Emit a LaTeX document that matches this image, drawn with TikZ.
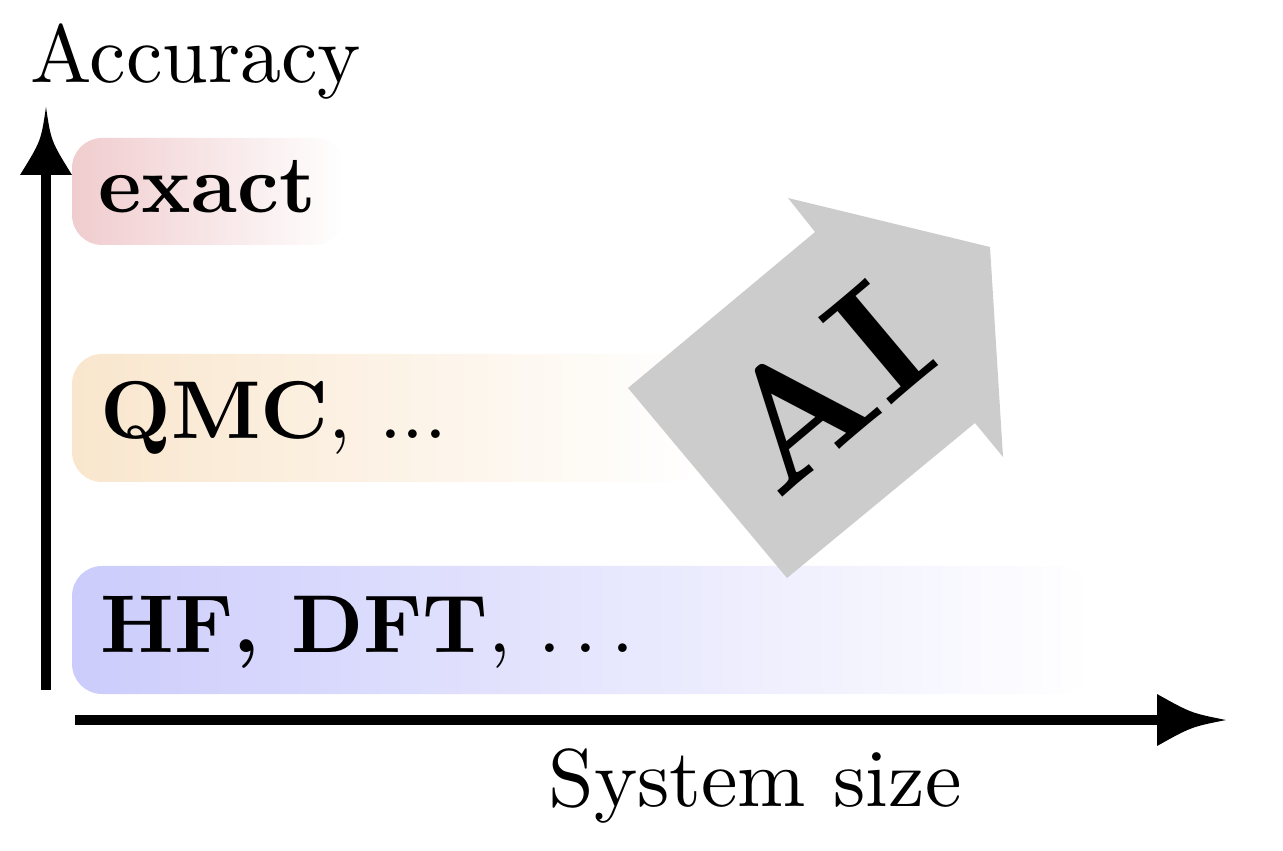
\documentclass[tikz,border=0pt]{standalone}
\usepackage{fontspec}
\setmainfont{lmroman10-regular.otf}[BoldFont=lmroman10-bold.otf]
\usetikzlibrary{fadings}
\definecolor{bandred}{RGB}{240,204,206}
\definecolor{bandorange}{RGB}{249,230,205}
\definecolor{bandblue}{RGB}{204,204,252}
\definecolor{aigray}{RGB}{204,204,204}
\begin{document}
\begin{tikzpicture}[x=0.5pt,y=-0.5pt,
  lbl/.style={anchor=base west, inner sep=0pt, font=\fontsize{41}{49}\selectfont},
  boldlbl/.style={lbl, font=\fontsize{41}{49}\selectfont\bfseries},
  band/.style={rounded corners=15pt, path fading=east},
  axisline/.style={line width=5pt},
  tiphead/.style={fill=black},
  aiarrow/.style={fill=aigray}]
\useasboundingbox (0,0) rectangle (1283,850);

% bands
\fill[band, bandred] (72,138) rectangle (345,245);
\fill[band, bandorange] (72,354) rectangle (700,482);
\fill[band, bandblue] (72,566) rectangle (1090,694);

% AI arrow
\fill[aiarrow] (628,388) -- (787,578) -- (975,423) -- (1003,457) -- (990,247) -- (788,198) -- (815,232) -- cycle;
\node[rotate=40, inner sep=0pt, font=\fontsize{83}{99}\selectfont\bfseries] (ai) at (823,387) {AI};

% labels
\node[lbl] (acc) at (30,83) {Accuracy};
\node[boldlbl] (exact) at (98,213) {exact};
\node[lbl] (qmc) at (100,438) {\textbf{QMC}, ...};
\node[lbl] (hf) at (100,652) {\textbf{HF, DFT}, .\kern.1667em.\kern.1667em.};
\node[lbl] (sys) at (548,806) {System size};

% axes
\coordinate (yfoot) at (46,690);
\coordinate (yhead) at (46,172);
\coordinate (xfoot) at (75,720);
\coordinate (xhead) at (1160,720);
\draw[axisline] (yfoot) -- (yhead);
\draw[axisline] (xfoot) -- (xhead);
\fill[tiphead] (20,175) .. controls (41,141) .. (46,107) .. controls (51,141) .. (72,175) -- cycle;
\fill[tiphead] (1157,694) .. controls (1191,713) .. (1226,720) .. controls (1191,727) .. (1157,746) -- cycle;
\end{tikzpicture}
\end{document}
